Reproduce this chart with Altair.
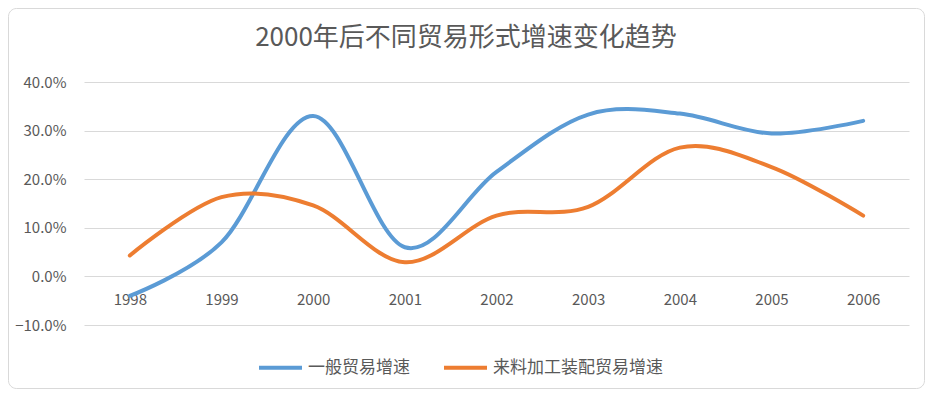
import altair as alt
import pandas as pd

TITLE = "2000年后不同贸易形式增速变化趋势"
years = ["1998", "1999", "2000", "2001", "2002", "2003", "2004", "2005", "2006"]
series_names = ["一般贸易增速", "来料加工装配贸易增速"]
general = [-4.0, 7.0, 33.0, 6.0, 21.5, 33.3, 33.5, 29.4, 32.0]
processing = [4.3, 16.3, 14.6, 2.9, 12.5, 14.3, 26.5, 22.5, 12.5]
colors = ["#5B9BD5", "#ED7D31"]

rows = []
for name, vals in zip(series_names, [general, processing]):
    for y, v in zip(years, vals):
        rows.append({"year": y, "series": name, "value": v / 100.0})
df = pd.DataFrame(rows)

FONT = "Noto Sans CJK SC"
GRAY = "#595959"
W, H = 825, 243
PAD = {"left": 76, "top": 74, "right": 16, "bottom": 64}

lines = alt.Chart(df).mark_line(
    interpolate="cardinal", tension=0, strokeWidth=4, strokeCap="round"
).encode(
    x=alt.X("year:O", sort=years, scale=alt.Scale(type="point", padding=0.5),
            axis=alt.Axis(title=None, domain=False, ticks=False, tickSize=0, grid=False,
                          offset=-49, labelPadding=16, labelFontSize=15,
                          labelFont=FONT, labelColor=GRAY, labelAngle=0)),
    y=alt.Y("value:Q", scale=alt.Scale(domain=[-0.1, 0.4], nice=False),
            axis=alt.Axis(title=None, format=".1%", values=[-0.1, 0, 0.1, 0.2, 0.3, 0.4],
                          domain=False, ticks=False, tickSize=0, labelPadding=18,
                          labelFontSize=15, labelFont=FONT, labelColor=GRAY,
                          gridColor="#d9d9d9", gridWidth=1)),
    color=alt.Color("series:N", sort=series_names,
                    scale=alt.Scale(domain=series_names, range=colors),
                    legend=alt.Legend(title=None, orient="none", legendX=173, legendY=262,
                                      direction="horizontal", symbolType="stroke",
                                      symbolSize=1849, symbolStrokeWidth=4,
                                      labelFontSize=17, labelFont=FONT, labelColor=GRAY,
                                      labelLimit=0, labelOffset=4, columnPadding=26,
                                      padding=0)),
)

title = alt.Chart(alt.Data(values=[{"t": TITLE}])).mark_text(
    align="center", baseline="middle", fontSize=26, font=FONT, color=GRAY
).encode(
    x=alt.value(382), y=alt.value(-44), text="t:N"
)

border = alt.Chart(alt.Data(values=[{"a": 1}])).mark_rect(
    fill="transparent", stroke="#d9d9d9", strokeWidth=1, cornerRadius=8
).encode(
    x=alt.value(-75.5), x2=alt.value(W + PAD["right"] - 0.5),
    y=alt.value(-73.5), y2=alt.value(H + PAD["bottom"] - 0.5)
)

chart = alt.layer(border, lines, title).properties(
    width=W, height=H, padding=PAD, autosize=alt.AutoSizeParams(type="none"),
    background="white"
).configure_view(stroke=None)

chart.save("out.html", embed_options={"renderer": "svg", "actions": False})
